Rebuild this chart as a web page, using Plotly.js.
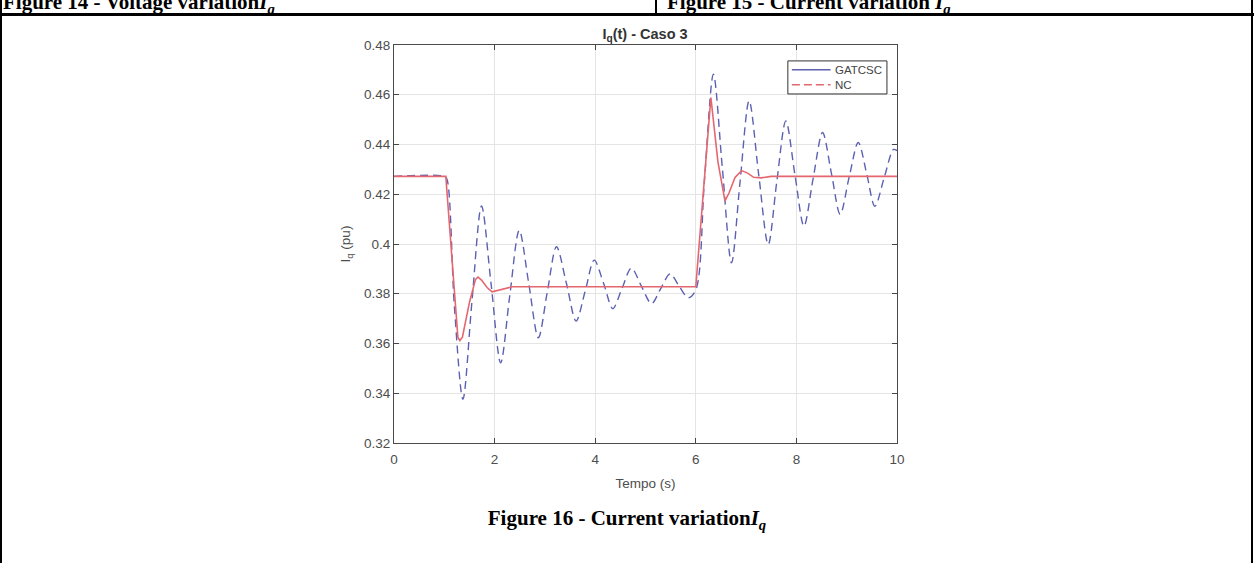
<!DOCTYPE html>
<html>
<head>
<meta charset="utf-8">
<script src="https://cdn.plot.ly/plotly-3.0.1.min.js"></script>
<style>
  html, body { margin:0; padding:0; background:#fff; width:1254px; height:563px; overflow:hidden; }
  #chart { position:absolute; left:0; top:0; width:1254px; height:563px; }
  .ov { position:absolute; pointer-events:none; z-index:5; }
  .hdr { position:absolute; top:0; height:13px; overflow:hidden; z-index:5;
         font-family:"Liberation Serif","Times New Roman",serif; font-weight:bold; font-size:21px; color:#000; white-space:nowrap; }
  .hdr span.t { position:absolute; top:-10px; left:0; line-height:normal; }
  .cap { position:absolute; left:0; width:1254px; text-align:center; z-index:5;
         font-family:"Liberation Serif","Times New Roman",serif; font-weight:bold; font-size:21px; color:#000; }
  sub { font-size:0.7em; vertical-align:-0.35em; line-height:0; }
</style>
</head>
<body>
<div id="chart"></div>

<!-- table borders -->
<div class="ov" style="left:0;top:13px;width:1254px;height:3px;background:#000;"></div>
<div class="ov" style="left:655px;top:0;width:2px;height:14px;background:#000;"></div>
<div class="ov" style="left:0;top:0;width:2px;height:563px;background:#000;"></div>
<div class="ov" style="left:1251px;top:0;width:2px;height:563px;background:#000;"></div>

<!-- header row (cut off at the top, as in the page) -->
<div class="hdr" style="left:3px;width:650px;"><span class="t">Figure 14 - Voltage variation<i>I</i><sub><i>q</i></sub></span></div>
<div class="hdr" style="left:667px;width:580px;"><span class="t">Figure 15 - Current variation <i>I</i><sub><i>q</i></sub></span></div>

<!-- caption -->
<div class="cap" style="top:506px;">Figure 16 - Current variation<i>I</i><sub><i>q</i></sub></div>

<script>
// ---- data ----
// blue dashed curve (oscillating)
const tBlue = [0, 1.0, 1.05, 1.2, 1.37, 1.55, 1.74, 1.93, 2.12, 2.30, 2.49, 2.68, 2.87, 3.05, 3.23, 3.43, 3.62, 3.80, 3.98, 4.17, 4.35, 4.53, 4.72, 4.92, 5.12, 5.30, 5.49, 5.67, 5.85, 6.0, 6.17, 6.35, 6.53, 6.71, 6.88, 7.06, 7.25, 7.44, 7.61, 7.79, 7.97, 8.15, 8.33, 8.52, 8.70, 8.87, 9.05, 9.23, 9.40, 9.56, 9.75, 9.93, 10.0];
const vBlue = [0.4272, 0.4272, 0.4262, 0.375, 0.3376, 0.377, 0.4153, 0.384, 0.3522, 0.379, 0.4055, 0.384, 0.3623, 0.381, 0.3989, 0.384, 0.369, 0.381, 0.3935, 0.384, 0.374, 0.382, 0.3903, 0.383, 0.376, 0.382, 0.388, 0.383, 0.3784, 0.3815, 0.425, 0.4683, 0.430, 0.3924, 0.425, 0.4576, 0.428, 0.3998, 0.425, 0.4495, 0.428, 0.4072, 0.426, 0.4448, 0.428, 0.4119, 0.427, 0.4408, 0.428, 0.4152, 0.427, 0.438, 0.4375];
// red solid curve (damped)
const tRed = [0, 1.03, 1.27, 1.31, 1.36, 1.5, 1.62, 1.67, 1.74, 1.85, 1.95, 2.1, 2.35, 6.0, 6.3, 6.44, 6.58, 6.66, 6.78, 6.91, 7.03, 7.15, 7.3, 7.5, 10.0];
const vRed = [0.4272, 0.4272, 0.3625, 0.3612, 0.3625, 0.3765, 0.3858, 0.3867, 0.3855, 0.3825, 0.3808, 0.3815, 0.3828, 0.3828, 0.4589, 0.433, 0.4173, 0.4205, 0.4268, 0.4295, 0.4285, 0.4268, 0.4266, 0.4272, 0.4272];

const legendNames = ["GATCSC", "NC"];
const xTicks = [0, 2, 4, 6, 8, 10];
const yTicks = [0.32, 0.34, 0.36, 0.38, 0.40, 0.42, 0.44, 0.46, 0.48];
const yTickText = ["0.32", "0.34", "0.36", "0.38", "0.4", "0.42", "0.44", "0.46", "0.48"];

const blue = "#5c61b2";
const red = "#e4676f";

const traces = [
  { x: tBlue, y: vBlue, mode: "lines", line: { color: blue, width: 1.4, dash: "8px,5px", shape: "spline", smoothing: 0.9 }, showlegend: false, hoverinfo: "skip" },
  { x: tRed, y: vRed, mode: "lines", line: { color: red, width: 1.6 }, showlegend: false, hoverinfo: "skip" }
];

const font = "Liberation Sans, Arial, Helvetica, sans-serif";

// legend box drawn as layout decoration (paper coordinates)
const lgX0 = 0.783, lgX1 = 0.980, lgY0 = 0.877, lgY1 = 0.960;
const lgRows = [0.938, 0.900];
const lgLineX = [0.791, 0.868];
const shapes = [
  { type: "rect", xref: "paper", yref: "paper", x0: lgX0, x1: lgX1, y0: lgY0, y1: lgY1, fillcolor: "#fff", line: { color: "#333", width: 1 }, layer: "above" },
  { type: "line", xref: "paper", yref: "paper", x0: lgLineX[0], x1: lgLineX[1], y0: lgRows[0], y1: lgRows[0], line: { color: blue, width: 1.4 }, layer: "above" },
  { type: "line", xref: "paper", yref: "paper", x0: lgLineX[0], x1: lgLineX[1], y0: lgRows[1], y1: lgRows[1], line: { color: red, width: 1.4, dash: "8px,4px" }, layer: "above" }
];
const annotations = legendNames.map((n, i) => ({
  text: n, xref: "paper", yref: "paper", x: lgLineX[1] + 0.004, y: lgRows[i], xanchor: "left", yanchor: "middle",
  showarrow: false, font: { family: font, size: 11.5, color: "#444" }
}));

const layout = {
  width: 1254, height: 563,
  margin: { l: 394, r: 357, t: 45, b: 120, pad: 0 },
  paper_bgcolor: "rgba(0,0,0,0)", plot_bgcolor: "#fff",
  font: { family: font, size: 13.5, color: "#4d4d4d" },
  title: { text: "<b>I<sub>q</sub>(t) - Caso 3</b>", x: 0.5144, xanchor: "center", y: 0.94, yanchor: "middle", yref: "container", font: { family: font, size: 14.5, color: "#333" } },
  xaxis: {
    range: [0, 10], tickvals: xTicks, ticktext: xTicks.map(String),
    ticks: "inside", ticklen: 5, tickcolor: "#444", tickwidth: 1, ticklabelstandoff: 4,
    showline: true, linecolor: "#4a4a4a", linewidth: 1, mirror: "ticks",
    showgrid: true, gridcolor: "#e4e4e4", gridwidth: 1, zeroline: false,
    tickfont: { size: 13.5, color: "#4d4d4d" },
    title: { text: "Tempo (s)", standoff: 12, font: { size: 13.5, color: "#4d4d4d" } },
    automargin: false
  },
  yaxis: {
    range: [0.32, 0.48], tickvals: yTicks, ticktext: yTickText,
    ticks: "inside", ticklen: 5, tickcolor: "#444", tickwidth: 1,
    showline: true, linecolor: "#4a4a4a", linewidth: 1, mirror: "ticks",
    showgrid: true, gridcolor: "#e4e4e4", gridwidth: 1, zeroline: false,
    tickfont: { size: 13.5, color: "#4d4d4d" },
    title: { text: "I<sub>q</sub> (pu)", standoff: 10, font: { size: 13.5, color: "#4d4d4d" } },
    automargin: false
  },
  shapes: shapes,
  annotations: annotations,
  showlegend: false
};

Plotly.newPlot("chart", traces, layout, { staticPlot: true, displayModeBar: false });
</script>
</body>
</html>
